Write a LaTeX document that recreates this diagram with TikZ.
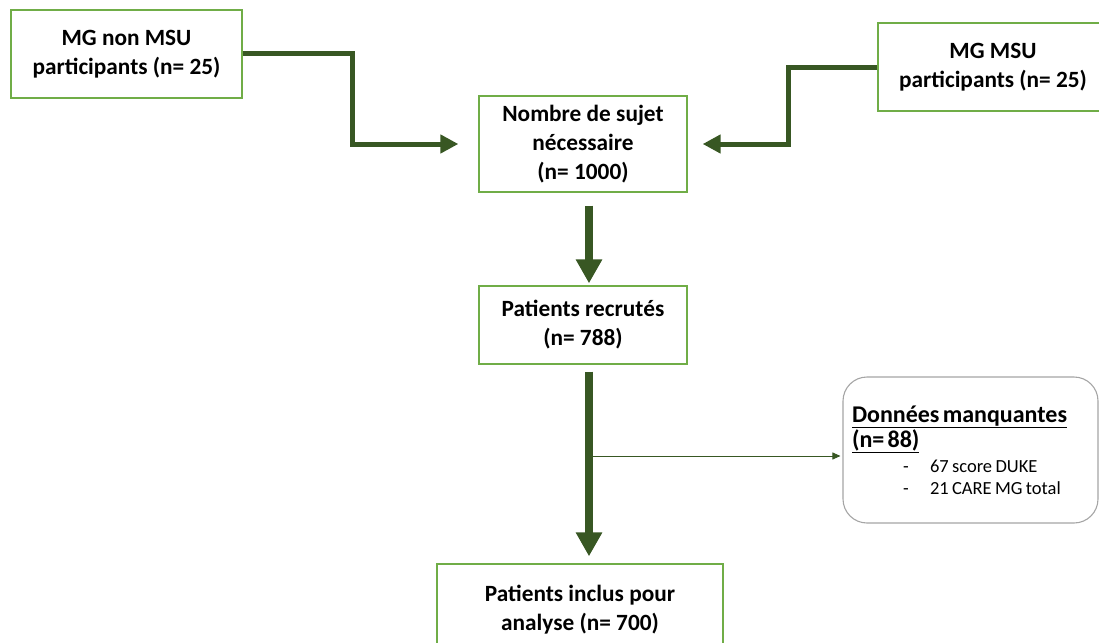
\documentclass[tikz,border=0pt]{standalone}
\usepackage{fontspec}
\setmainfont{Carlito}
\usetikzlibrary{arrows.meta}
\definecolor{boxgreen}{RGB}{112,173,71}
\definecolor{arrowgreen}{RGB}{56,87,35}
\definecolor{boxgray}{RGB}{165,165,165}
\tikzset{
  flowbox/.style={shape=rectangle,draw=boxgreen,line width=1.3pt,fill=white,
    inner sep=0pt,align=center,font=\fontsize{23.3}{29}\selectfont\bfseries},
  missbox/.style={shape=rectangle,rounded corners=24pt,draw=boxgray,line width=1.1pt,
    inner xsep=9pt,inner ysep=0pt,align=left},
  elbowarrow/.style={draw=arrowgreen,line width=5pt,
    -{Triangle[length=18pt,width=18pt]},arrowgreen},
  downarrow/.style={draw=arrowgreen,line width=8pt,
    -{Triangle[length=24pt,width=25pt]},arrowgreen},
  thinarrow/.style={draw=arrowgreen,line width=0.9pt,
    -{Triangle[length=8pt,width=7pt]},arrowgreen}
}
\begin{document}
\begin{tikzpicture}[x=1pt,y=-1pt]
  \useasboundingbox (0,0) rectangle (1099,642);

  \node (nonmsu) at (126.5,54) [flowbox,minimum width=231pt,minimum height=88pt] {MG non MSU\\participants (n= 25)} ;
  \node (msu) at (993,67) [flowbox,minimum width=230pt,minimum height=88pt] {MG MSU\\participants (n= 25)} ;
  \node (nombre) at (583,144) [flowbox,minimum width=208pt,minimum height=96pt] {Nombre de sujet\\nécessaire\\(n= 1000)} ;
  \node (recrutes) at (583,325) [flowbox,minimum width=208pt,minimum height=78pt] {Patients recrutés\\(n= 788)} ;
  \node (inclus) at (580,609.5) [flowbox,minimum width=286pt,minimum height=91pt] {Patients inclus pour\\analyse (n= 700)} ;
  \node (manquantes) at (970.5,450) [missbox,text width=237pt,minimum height=146pt]
    {{\fontsize{24}{25}\selectfont\bfseries \underline{Données manquantes}\par
      \underline{(n= 88)}\par}
     \vspace{3pt}
     {\fontsize{18.5}{22}\selectfont
      \hspace*{51pt}\makebox[27pt][l]{-}67 score DUKE\par
      \hspace*{51pt}\makebox[27pt][l]{-}21 CARE MG total\par}} ;

  \coordinate (branch) at (593,456);

  \draw [elbowarrow,shorten >=20pt] (nonmsu.east) -- ++(110,0) |- (nombre.west);
  \draw [elbowarrow,shorten >=15pt] (msu.west) -- ++(-89,0) |- (nombre.east);

  \draw [downarrow,shorten <=13pt,shorten >=2pt] ([xshift=6pt]nombre.south) -- ([xshift=6pt]recrutes.north);
  \draw [downarrow,shorten <=7pt,shorten >=7pt] ([xshift=6pt]recrutes.south) -- ([xshift=6pt]recrutes.south |- inclus.north);

  \draw [thinarrow,shorten >=2pt] (branch) -- (branch -| manquantes.west);
\end{tikzpicture}
\end{document}
